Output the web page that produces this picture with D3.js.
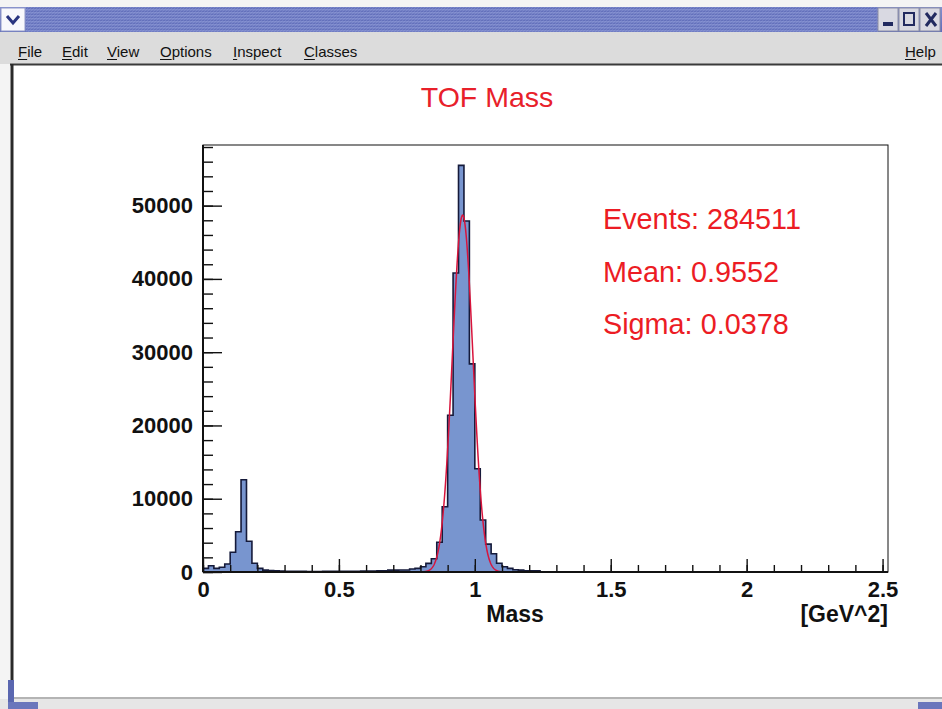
<!DOCTYPE html>
<html>
<head>
<meta charset="utf-8">
<script src="https://cdn.jsdelivr.net/npm/d3@7"></script>
<style>
  html, body { margin: 0; padding: 0; background: #ffffff; }
  svg { display: block; }
  .menu text { font-family: "Liberation Sans", Arial, sans-serif; font-size: 15px; fill: #111; }
  .axis text { font-family: "Liberation Sans", Arial, sans-serif; font-weight: bold; font-size: 22px; fill: #111; }
</style>
</head>
<body>
<svg id="win" width="942" height="709"></svg>
<script>
// ---- histogram data: TOF mass, 0.02 GeV^2 bins starting at 0 ----
const binStart = 0;
const binWidth = 0.02;
const binCounts = [
  500, 850, 500, 650, 1100, 2700, 5500, 12600, 4200, 1200,     // 0.00 - 0.20
  500, 250, 200, 150, 120, 100, 100, 80, 80, 60,               // 0.20 - 0.40
  60, 70, 80, 80, 90, 100, 100, 110, 110, 120,                 // 0.40 - 0.60
  130, 140, 150, 170, 250, 250, 270, 270, 400, 500,            // 0.60 - 0.80
  720, 1180, 1800, 4050, 8900, 21400, 40800, 55500, 47900, 28400, // 0.80 - 1.00
  14100, 7100, 3800, 2500, 1200, 720, 500, 300, 250, 170,      // 1.00 - 1.20
  170, 150                                                     // 1.20 - 1.24
];

// ---- fit / statistics ----
const statsLines = ["Events: 284511", "Mean: 0.9552", "Sigma: 0.0378"];
const fitMean = 0.9552;
const fitSigma = 0.0378;
const fitAmplitude = 48700;
const fitRange = [0.80, 1.11];

// ---- axes ----
const xDomain = [0, 2.52];
const xMajorTicks = [0, 0.5, 1, 1.5, 2, 2.5];
const xMinorTicks = d3.range(0, 2.52, 0.1);
const yMajorTicks = [0, 10000, 20000, 30000, 40000, 50000];
const yMinorTicks = d3.range(0, 58001, 2000);
const menuItems = ["File", "Edit", "View", "Options", "Inspect", "Classes"];

const svg = d3.select("#win");
const W = 942, H = 709;

// ---------------- window chrome ----------------
const defs = svg.append("defs");
const tg = defs.append("linearGradient").attr("id", "titlegrad").attr("x1", 0).attr("x2", 0).attr("y1", 0).attr("y2", 1);
tg.append("stop").attr("offset", "0%").attr("stop-color", "#8490d0");
tg.append("stop").attr("offset", "100%").attr("stop-color", "#5e6bb8");
const hatch = defs.append("pattern").attr("id", "hatch").attr("width", 3).attr("height", 3)
  .attr("patternUnits", "userSpaceOnUse");
hatch.append("rect").attr("width", 3).attr("height", 3).attr("fill", "url(#titlegrad)");
hatch.append("path").attr("d", "M0,3 L3,0").attr("stroke", "#9aa4dc").attr("stroke-width", 0.6).attr("opacity", 0.5);

svg.append("rect").attr("x", 0).attr("y", 0).attr("width", W).attr("height", H).attr("fill", "#f4f4f4");
// title bar
svg.append("rect").attr("x", 0).attr("y", 7).attr("width", W).attr("height", 25).attr("fill", "url(#titlegrad)");
svg.append("rect").attr("x", 26).attr("y", 7).attr("width", 852).attr("height", 25).attr("fill", "url(#hatch)");
// left drop button
svg.append("rect").attr("x", 1).attr("y", 8).attr("width", 24).attr("height", 23).attr("fill", "#f8f8fc").attr("stroke", "#9098c8");
svg.append("path").attr("d", "M7,16 L13,23 L19,16").attr("fill", "none").attr("stroke", "#2a3580").attr("stroke-width", 3);
// right buttons
const btnX = [878, 899, 920];
svg.selectAll("rect.btn").data(btnX).join("rect").attr("class", "btn")
  .attr("x", d => d).attr("y", 8).attr("width", 20).attr("height", 23)
  .attr("fill", "#d9d9e2").attr("stroke", "#8d8fa6");
svg.append("rect").attr("x", 883).attr("y", 22).attr("width", 10).attr("height", 4).attr("fill", "#222a60");
svg.append("rect").attr("x", 904).attr("y", 13).attr("width", 10).attr("height", 12).attr("fill", "none").attr("stroke", "#222a60").attr("stroke-width", 2);
svg.append("path").attr("d", "M926,13 L936,26 M936,13 L926,26").attr("stroke", "#222a60").attr("stroke-width", 3);

// menu bar
svg.append("rect").attr("x", 0).attr("y", 32).attr("width", W).attr("height", 32).attr("fill", "#dcdcdc");
const menu = svg.append("g").attr("class", "menu");
const menuX = [18, 62, 107, 160, 233, 304];
menuItems.forEach((m, i) => {
  menu.append("text").attr("x", menuX[i]).attr("y", 57).text(m);
  const first = menu.append("text").attr("x", menuX[i]).attr("y", 57).attr("visibility", "hidden").text(m[0]);
  const w1 = first.node().getComputedTextLength();
  first.remove();
  menu.append("line").attr("x1", menuX[i]).attr("x2", menuX[i] + w1).attr("y1", 59.5).attr("y2", 59.5)
    .attr("stroke", "#111").attr("stroke-width", 1);
});
menu.append("text").attr("x", 905).attr("y", 57).text("Help");
menu.append("line").attr("x1", 905).attr("x2", 916).attr("y1", 59.5).attr("y2", 59.5).attr("stroke", "#111");

// canvas area with sunken border
svg.append("rect").attr("x", 10).attr("y", 64).attr("width", W - 10).attr("height", 634).attr("fill", "#ffffff");
svg.append("line").attr("x1", 10).attr("x2", W).attr("y1", 64.5).attr("y2", 64.5).attr("stroke", "#3a3a3a").attr("stroke-width", 2);
svg.append("line").attr("x1", 12).attr("x2", 12).attr("y1", 64).attr("y2", 700).attr("stroke", "#2a2a2a").attr("stroke-width", 3);
svg.append("line").attr("x1", 10).attr("x2", W).attr("y1", 698).attr("y2", 698).attr("stroke", "#b4b4b4").attr("stroke-width", 2);
svg.append("rect").attr("x", 0).attr("y", 699).attr("width", W).attr("height", 10).attr("fill", "#e6e6e6");
svg.append("rect").attr("x", 8).attr("y", 680).attr("width", 6).attr("height", 29).attr("fill", "#5a67b0");
svg.append("rect").attr("x", 8).attr("y", 702).attr("width", 30).attr("height", 7).attr("fill", "#6a76bc");
svg.append("rect").attr("x", 918).attr("y", 702).attr("width", 24).attr("height", 7).attr("fill", "#6a76bc");

// ---------------- chart ----------------
const plot = { left: 203, right: 888, top: 145, bottom: 572 };
const x = d3.scaleLinear().domain(xDomain).range([plot.left, plot.right]);
const yMax = d3.max(binCounts) * 1.05;
const y = d3.scaleLinear().domain([0, yMax]).range([plot.bottom, plot.top]);

// title
svg.append("text").attr("x", 487).attr("y", 107).attr("text-anchor", "middle")
  .style("font-family", "'Liberation Sans', Arial, sans-serif").style("font-size", "28.5px")
  .attr("fill", "#e8202a").text("TOF Mass");

// histogram as step outline
const steps = [];
binCounts.forEach((c, i) => {
  const lo = binStart + i * binWidth;
  steps.push([lo, c], [lo + binWidth, c]);
});
steps.unshift([binStart, 0]);
steps.push([binStart + binCounts.length * binWidth, 0]);

const area = d3.area().x(d => x(d[0])).y0(y(0)).y1(d => y(d[1]));
const line = d3.line().x(d => x(d[0])).y(d => y(d[1]));

svg.append("path").datum(steps).attr("d", area).attr("fill", "#7895cf");

// gaussian fit
const fitPts = d3.range(fitRange[0], fitRange[1] + 1e-9, 0.001).map(v =>
  [v, fitAmplitude * Math.exp(-0.5 * Math.pow((v - fitMean) / fitSigma, 2))]);

svg.append("path").datum(steps).attr("d", line).attr("fill", "none")
  .attr("stroke", "#151a3a").attr("stroke-width", 1.6).attr("stroke-linejoin", "miter");
svg.append("path").datum(fitPts).attr("d", line).attr("fill", "none")
  .attr("stroke", "#d8143c").attr("stroke-width", 1.5);

// y axis: minor then major ticks, pointing into the frame
svg.append("g").attr("class", "axis").attr("transform", `translate(${plot.left},0)`)
  .call(d3.axisLeft(y).tickValues(yMinorTicks.filter(v => v <= yMax)).tickSizeInner(-10).tickSizeOuter(0).tickFormat(""))
  .call(g => g.select(".domain").remove())
  .call(g => g.selectAll("line").attr("stroke", "#111").attr("stroke-width", 1.4));
svg.append("g").attr("class", "axis").attr("transform", `translate(${plot.left},0)`)
  .call(d3.axisLeft(y).tickValues(yMajorTicks).tickSizeInner(-19).tickSizeOuter(0).tickPadding(10).tickFormat(d3.format("d")))
  .call(g => g.select(".domain").remove())
  .call(g => g.selectAll("line").attr("stroke", "#111").attr("stroke-width", 1.4));

// x axis
svg.append("g").attr("class", "axis").attr("transform", `translate(0,${plot.bottom})`)
  .call(d3.axisBottom(x).tickValues(xMinorTicks).tickSizeInner(-7).tickSizeOuter(0).tickFormat(""))
  .call(g => g.select(".domain").remove())
  .call(g => g.selectAll("line").attr("stroke", "#111").attr("stroke-width", 1.4));
svg.append("g").attr("class", "axis").attr("transform", `translate(0,${plot.bottom})`)
  .call(d3.axisBottom(x).tickValues(xMajorTicks).tickSizeInner(-13).tickSizeOuter(0).tickPadding(9).tickFormat(d3.format("")))
  .call(g => g.select(".domain").remove())
  .call(g => g.selectAll("line").attr("stroke", "#111").attr("stroke-width", 1.4));

// frame
svg.append("rect").attr("x", plot.left).attr("y", plot.top)
  .attr("width", plot.right - plot.left).attr("height", plot.bottom - plot.top)
  .attr("fill", "none").attr("stroke", "#111").attr("stroke-width", 1);
svg.append("line").attr("x1", plot.left).attr("x2", plot.left).attr("y1", plot.top).attr("y2", plot.bottom)
  .attr("stroke", "#111").attr("stroke-width", 2);
svg.append("line").attr("x1", plot.left).attr("x2", plot.right).attr("y1", plot.bottom).attr("y2", plot.bottom)
  .attr("stroke", "#111").attr("stroke-width", 2);

// axis titles
const axt = svg.append("g").attr("class", "axis");
axt.append("text").attr("x", 515).attr("y", 622).attr("text-anchor", "middle").style("font-size", "23px").text("Mass");
axt.append("text").attr("x", plot.right).attr("y", 622).attr("text-anchor", "end").style("font-size", "23px").text("[GeV^2]");

// statistics box text
svg.append("g").selectAll("text").data(statsLines).join("text")
  .attr("x", 603).attr("y", (d, i) => 229 + i * 52.5)
  .style("font-family", "'Liberation Sans', Arial, sans-serif").style("font-size", "28.8px")
  .attr("fill", "#ec1c24").text(d => d);
</script>
</body>
</html>
